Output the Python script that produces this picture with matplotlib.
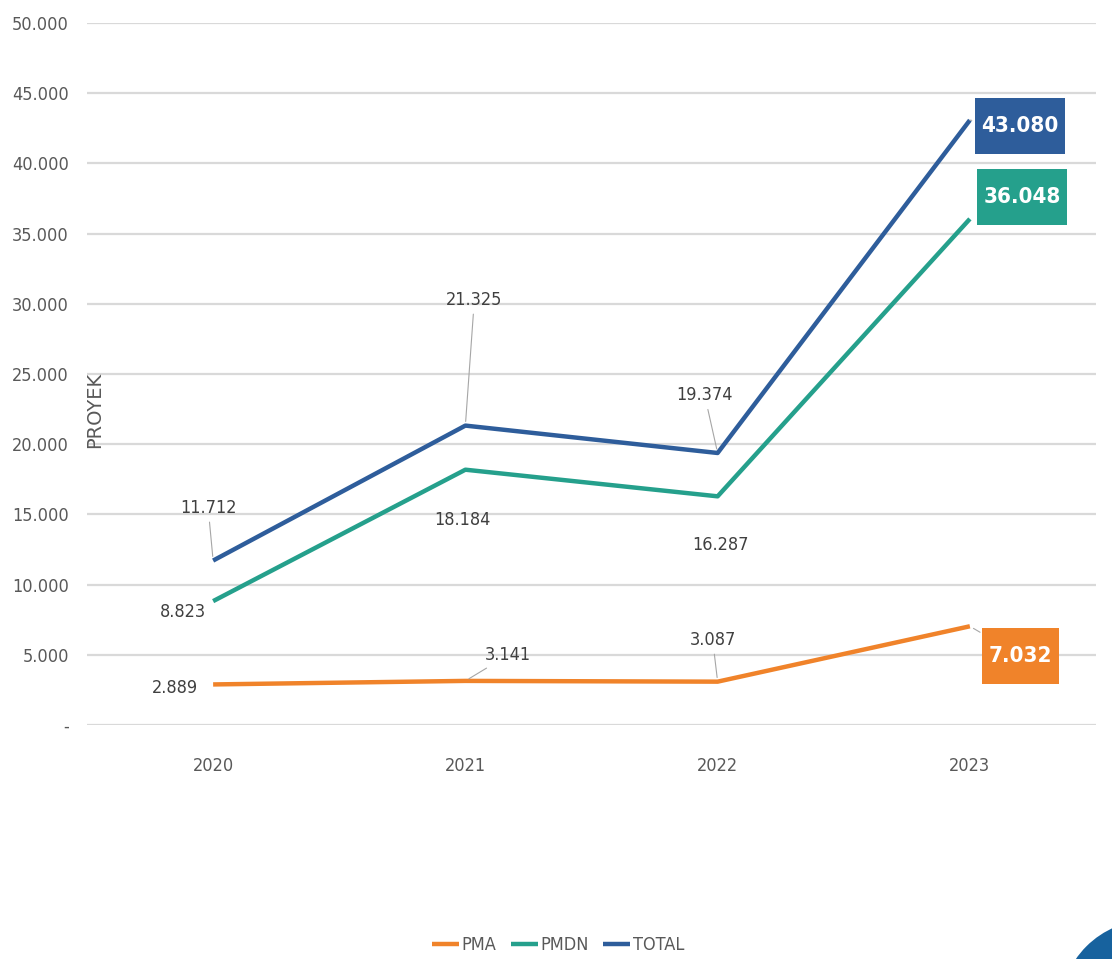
import matplotlib
matplotlib.use("Agg")
import matplotlib.pyplot as plt
from matplotlib import font_manager
from matplotlib.patches import Ellipse
from matplotlib.path import Path
import numpy as np

years = ["2020", "2021", "2022", "2023"]
pma = [2889, 3141, 3087, 7032]
pmdn = [8823, 18184, 16287, 36048]
total = [11712, 21325, 19374, 43080]
series_names = ["PMA", "PMDN", "TOTAL"]
yticks = [0, 5000, 10000, 15000, 20000, 25000, 30000, 35000, 40000, 45000, 50000]

colors = {"PMA": "#F0832A", "PMDN": "#25A08C", "TOTAL": "#2E5D9B"}

fontfile = None
boldfile = None
for f in font_manager.fontManager.ttflist:
    fn = f.fname.lower()
    if ("condensed" in fn or "narrow" in fn) and "italic" not in fn and "oblique" not in fn:
        if "bold" in fn and "semi" not in fn and "extra" not in fn:
            boldfile = boldfile or f.fname
        elif "light" not in fn and "thin" not in fn and "medium" not in fn and "semi" not in fn and "extra" not in fn and "black" not in fn and "bold" not in fn:
            fontfile = fontfile or f.fname

if fontfile:
    FP = font_manager.FontProperties(fname=fontfile)
else:
    FP = font_manager.FontProperties(family="DejaVu Sans", stretch="condensed")
if boldfile:
    FPB = font_manager.FontProperties(fname=boldfile)
else:
    FPB = font_manager.FontProperties(family="DejaVu Sans", stretch="condensed", weight="bold")

def fp(base, size):
    p = base.copy()
    p.set_size(size)
    return p

def fmt(v):
    if v == 0:
        return "-"
    return f"{v:,}".replace(",", ".")

def tall_box(x0, y0, width, height, mutation_size):
    # box with small horizontal padding and larger vertical padding
    px = 0.30 * mutation_size
    py = 0.80 * mutation_size
    x0, y0 = x0 - px, y0 - py
    x1, y1 = x0 + width + 2 * px, y0 + height + 2 * py
    return Path([(x0, y0), (x1, y0), (x1, y1), (x0, y1), (x0, y0)], closed=True)

fig = plt.figure(figsize=(11.12, 9.59), dpi=100)
fig.patch.set_facecolor("white")

circ = Ellipse((1150/1112, 1-1010/959), 180/1112, 180/959, transform=fig.transFigure,
               fc="#17629E", ec="none", zorder=-5)
fig.patches.append(circ)

ax = fig.add_axes([87/1112, 1-725/959, (1096-87)/1112, (725-23)/959])
ax.set_facecolor("none")

x = np.arange(len(years))
data = {"PMA": pma, "PMDN": pmdn, "TOTAL": total}
for name in series_names:
    ax.plot(x, data[name], color=colors[name], lw=3.2, solid_capstyle="butt", label=name, zorder=3)

ax.set_xlim(-0.5, len(years)-0.5)
ax.set_ylim(0, 50000)
ax.set_yticks(yticks)
ax.set_yticklabels([fmt(v) for v in yticks], fontproperties=fp(FP, 13), color="#595959")
ax.set_xticks(x)
ax.set_xticklabels(years, fontproperties=fp(FP, 13), color="#595959")
ax.tick_params(axis="both", length=0)
ax.tick_params(axis="y", pad=13)
ax.tick_params(axis="x", pad=23)
ax.grid(axis="y", color="#D9D9D9", lw=1.6)
ax.set_axisbelow(True)
for s in ax.spines.values():
    s.set_visible(False)

fig.text(95/1112, 1-410/959, "PROYEK", rotation=90, ha="center", va="center",
         fontsize=14, color="#595959", family="DejaVu Sans")

offsets = {
    "TOTAL": [(-5, 53), (9, 126), (-13, 58), (50, -6)],
    "PMDN": [(-30, -11), (-3, -50), (3, -49), (52, 22)],
    "PMA": [(-38, -4), (43, 26), (-5, 42), (51, -30)],
}
leaders = {("TOTAL", 0), ("TOTAL", 1), ("TOTAL", 2), ("TOTAL", 3), ("PMA", 1), ("PMA", 2), ("PMA", 3)}

for name in series_names:
    vals = data[name]
    for i, v in enumerate(vals):
        dx, dy = offsets[name][i]
        last = i == len(vals) - 1
        kw = dict(xy=(x[i], v), xytext=(dx, dy), textcoords="offset pixels",
                  ha="center", va="center", zorder=5)
        if (name, i) in leaders:
            kw["arrowprops"] = dict(arrowstyle="-", color="#A6A6A6", lw=0.8,
                                    shrinkA=2, shrinkB=3)
        if last:
            ax.annotate(fmt(v), fontproperties=fp(FPB, 16), color="white",
                        bbox=dict(boxstyle=tall_box, fc=colors[name], ec="none"), **kw)
        else:
            ax.annotate(fmt(v), fontproperties=fp(FP, 13), color="#404040", **kw)

leg = fig.legend(loc="center", bbox_to_anchor=(558/1112, 1-945/959), ncol=3, frameon=False,
                 prop=fp(FP, 13), handlelength=1.5, handletextpad=0.15,
                 columnspacing=0.8)
for t in leg.get_texts():
    t.set_color("#595959")

fig.savefig("out.png", dpi=100, facecolor="white")
